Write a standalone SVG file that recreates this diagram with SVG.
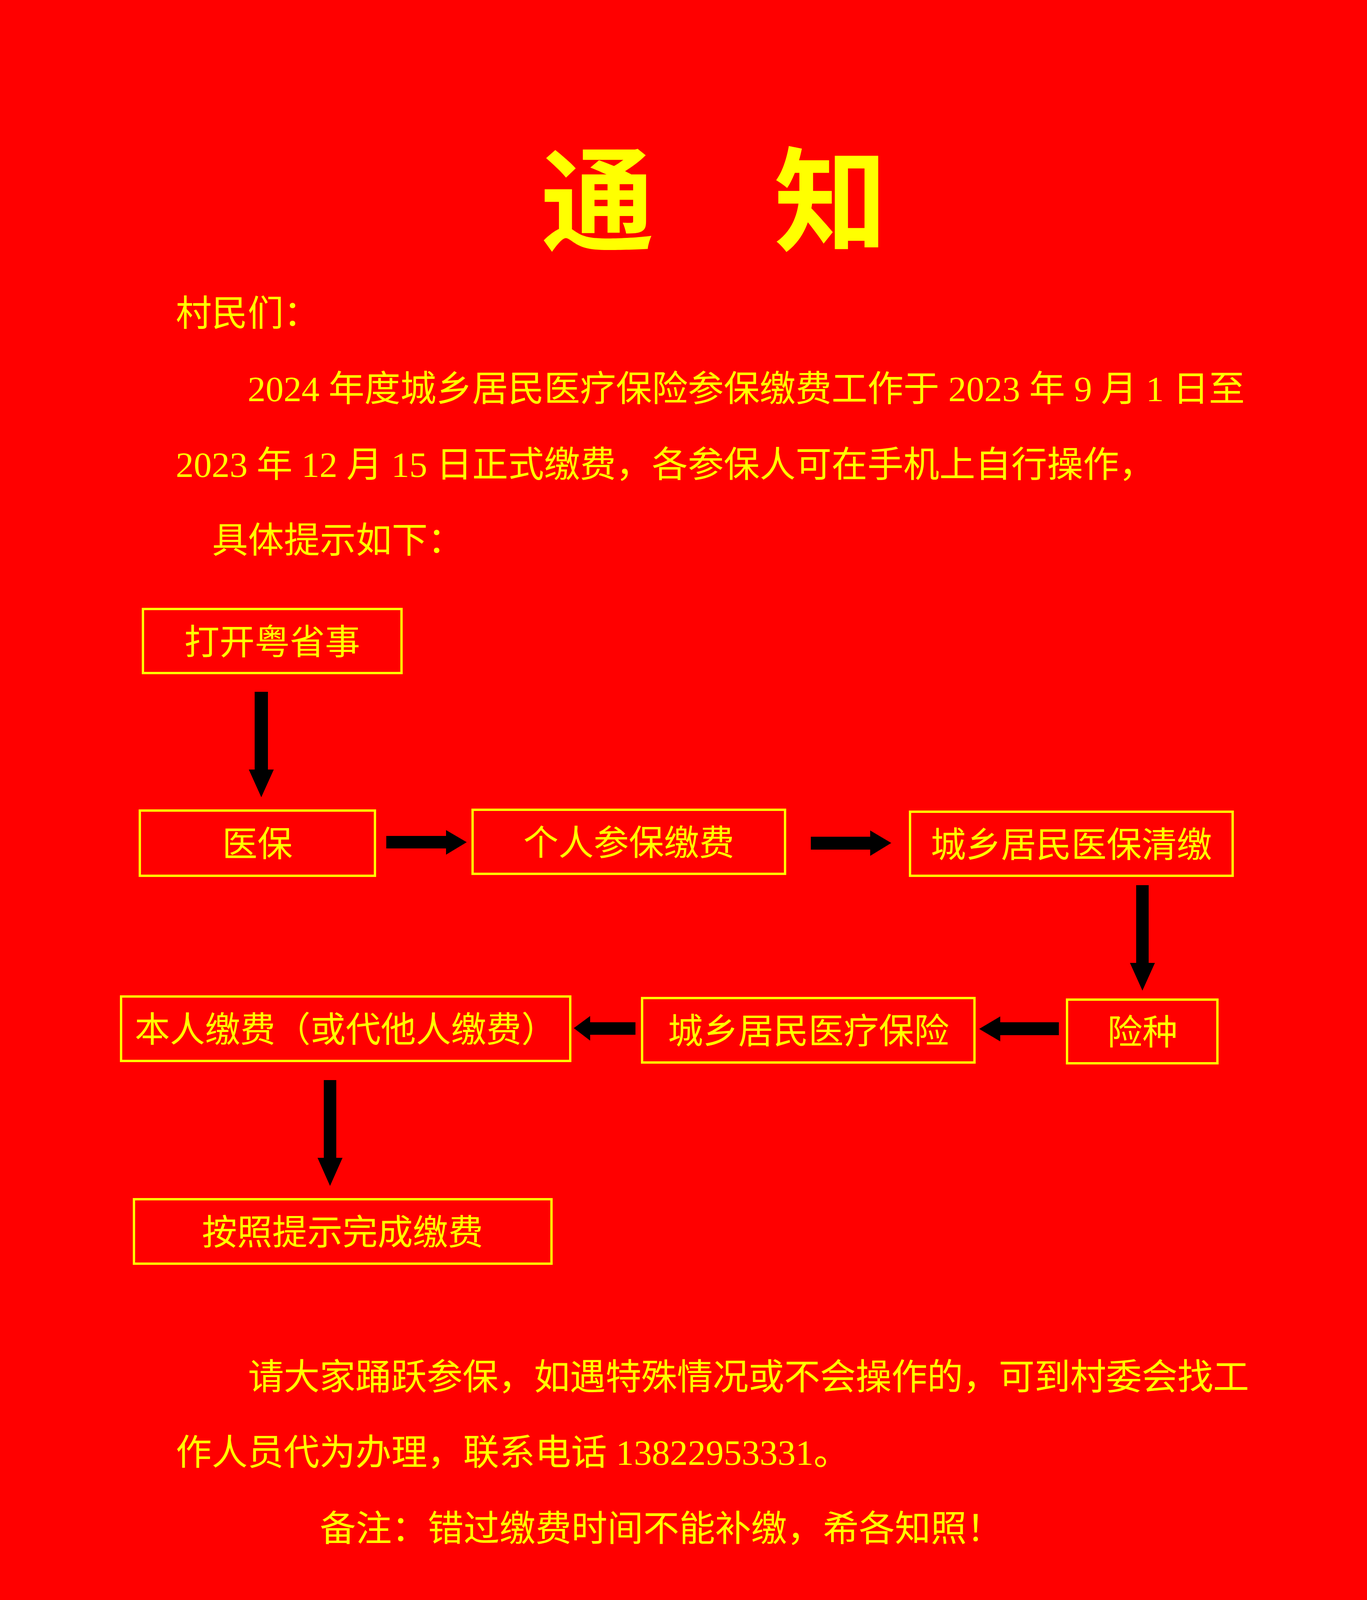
<svg xmlns="http://www.w3.org/2000/svg" width="3500" height="4949" viewBox="0 0 3500 4949">
<style>
.t{font-family:"Liberation Serif","Noto Sans CJK SC",serif;font-size:92px;fill:#FFFF00}
.bt{font-family:"Liberation Serif","Noto Sans CJK SC",serif;font-size:90px;fill:#FFFF00;text-anchor:middle}
.title{font-family:"Noto Sans CJK SC",sans-serif;font-size:290px;font-weight:700;fill:#FFFF00}
.box{fill:none;stroke:#FFFF00;stroke-width:6}
.arr{fill:#000000}
</style>
<rect x="0" y="0" width="3500" height="4949" fill="#FF0000"/>
<g id="title">
<text class="title" x="1385 1683 1982" y="620">通　知</text>
</g>
<g id="body">
<text class="t" x="450" y="834">村民们：</text>
<text class="t" x="634" y="1027">2024 年度城乡居民医疗保险参保缴费工作于 2023 年 9 月 1 日至</text>
<text class="t" x="450" y="1221">2023 年 12 月 15 日正式缴费，各参保人可在手机上自行操作，</text>
<text class="t" x="543" y="1415">具体提示如下：</text>
</g>
<g id="n1"><rect class="box" x="366" y="1559" width="662" height="164"/><text class="bt" x="697" y="1675">打开粤省事</text></g>
<g id="n2"><rect class="box" x="358" y="2075" width="602" height="167"/><text class="bt" x="659" y="2192">医保</text></g>
<g id="n3"><rect class="box" x="1210" y="2073" width="800" height="164"/><text class="bt" x="1610" y="2189">个人参保缴费</text></g>
<g id="n4"><rect class="box" x="2330" y="2078" width="826" height="164"/><text class="bt" x="2743" y="2194">城乡居民医保清缴</text></g>
<g id="n5"><rect class="box" x="2732" y="2559" width="385" height="163"/><text class="bt" x="2925" y="2674">险种</text></g>
<g id="n6"><rect class="box" x="1644" y="2555" width="851" height="165"/><text class="bt" x="2070" y="2671">城乡居民医疗保险</text></g>
<g id="n7"><rect class="box" x="310" y="2551" width="1150" height="165"/><text class="bt" x="885" y="2667">本人缴费（或代他人缴费）</text></g>
<g id="n8"><rect class="box" x="343" y="3070" width="1069" height="165"/><text class="bt" x="877" y="3186">按照提示完成缴费</text></g>
<g id="connectors">
<polygon class="arr" points="652,1771 686,1771 686,1970 701,1970 669,2041 637,1970 652,1970"/>
<polygon class="arr" points="989,2140 1142,2140 1142,2125 1195,2156 1142,2188 1142,2172 989,2172"/>
<polygon class="arr" points="2076,2142 2228,2142 2228,2126 2282,2158 2228,2191 2228,2175 2076,2175"/>
<polygon class="arr" points="2909,2266 2941,2266 2941,2465 2957,2465 2925,2536 2893,2465 2909,2465"/>
<polygon class="arr" points="2711,2617 2561,2617 2561,2602 2507,2634 2561,2666 2561,2650 2711,2650"/>
<polygon class="arr" points="1627,2617 1511,2617 1511,2601 1469,2632 1511,2664 1511,2649 1627,2649"/>
<polygon class="arr" points="829,2765 861,2765 861,2964 877,2964 845,3036 813,2964 829,2964"/>
</g>
<g id="footer">
<text class="t" x="635" y="3557" textLength="2563" lengthAdjust="spacing">请大家踊跃参保，如遇特殊情况或不会操作的，可到村委会找工</text>
<text class="t" x="450" y="3750">作人员代为办理，联系电话 13822953331。</text>
<text class="t" x="819" y="3945">备注：错过缴费时间不能补缴，希各知照！</text>
<text class="t" x="2693" y="4367">北河村委会</text>
</g>
</svg>
